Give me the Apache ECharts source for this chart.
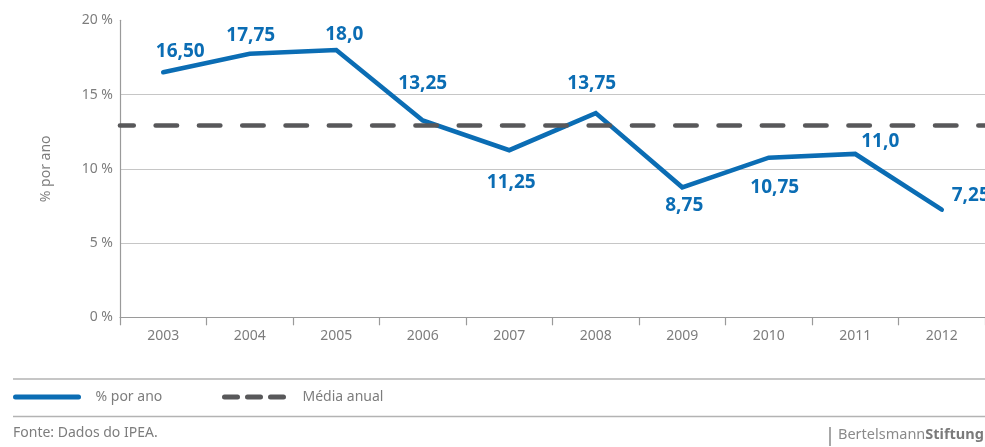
<!DOCTYPE html>
<html>
<head>
<meta charset="utf-8">
<script src="https://cdn.jsdelivr.net/npm/echarts@6/dist/echarts.min.js"></script>
<style>
  html, body { margin: 0; padding: 0; background: #fff; }
  #chart { width: 985px; height: 447px; }
</style>
</head>
<body>
<div id="chart"></div>
<script>
// Annual rate, Brazil 2003–2012
const years = ['2003', '2004', '2005', '2006', '2007', '2008', '2009', '2010', '2011', '2012'];
const ratePerYear = [16.5, 17.75, 18.0, 13.25, 11.25, 13.75, 8.75, 10.75, 11.0, 7.25];
const rateLabels = ['16,50', '17,75', '18,0', '13,25', '11,25', '13,75', '8,75', '10,75', '11,0', '7,25'];
const annualMean = 12.9;
const yTicks = [0, 5, 10, 15, 20];

// label placement next to each point: [dx, dy] from the point
const labelOffsets = [[17, -21], [1, -18], [8, -15], [0, -37], [2, 32], [-4, -30], [2, 18], [6, 30], [25, -12], [29, -14]];

const FONT = 'Noto Sans';
const GREY = '#7d7d7d';
const BLUE = '#0b6db4';
const DARK = '#58585a';
const HIDDEN = { color: 'rgba(0,0,0,0)', borderWidth: 0, opacity: 0 };

const chart = echarts.init(document.getElementById('chart'), null, { renderer: 'canvas' });

const lineData = ratePerYear.map((v, i) => ({
  value: v,
  label: { formatter: rateLabels[i], offset: labelOffsets[i] }
}));

chart.setOption({
  animation: false,
  grid: { left: 120, right: 0, top: 20.3, bottom: 129.7, containLabel: false },
  legend: [
    {
      left: 13, top: 390, padding: 0, itemWidth: 63, itemHeight: 14, selectedMode: false,
      data: [{ name: '% por ano', itemStyle: HIDDEN,
               lineStyle: { width: 5, color: BLUE, cap: 'round', type: 'solid' } }],
      textStyle: { fontFamily: FONT, fontSize: 14, color: GREY, padding: [0, 0, 0, 12] }
    },
    {
      left: 222, top: 390, padding: 0, itemWidth: 63, itemHeight: 14, selectedMode: false,
      data: [{ name: 'Média anual', itemStyle: HIDDEN,
               lineStyle: { type: [13, 10], width: 5, cap: 'round', color: DARK } }],
      textStyle: { fontFamily: FONT, fontSize: 14, color: GREY, padding: [0, 0, 0, 10] }
    }
  ],
  xAxis: {
    type: 'category',
    data: years,
    boundaryGap: true,
    axisLine: { lineStyle: { color: '#9a9a9a', width: 1.2 } },
    axisTick: { show: true, length: 8, interval: 0, lineStyle: { color: '#9a9a9a', width: 1.2 } },
    axisLabel: { fontFamily: FONT, fontSize: 14, color: GREY, margin: 12 },
    splitLine: { show: false }
  },
  yAxis: {
    type: 'value',
    min: yTicks[0], max: yTicks[yTicks.length - 1], interval: 5,
    name: '% por ano',
    nameLocation: 'middle',
    nameRotate: 90,
    nameGap: 67,
    nameTextStyle: { fontFamily: FONT, fontSize: 14, color: GREY },
    axisLine: { show: true, lineStyle: { color: '#9a9a9a', width: 1.2 } },
    axisTick: { show: false },
    axisLabel: { fontFamily: FONT, fontSize: 14, color: GREY, margin: 7, formatter: v => v + ' %' },
    splitLine: { show: true, lineStyle: { color: ['none', '#c6c6c6', '#c6c6c6', '#c6c6c6', 'none'], width: 1.2 } }
  },
  series: [
    {
      name: '% por ano',
      type: 'line',
      z: 4,
      data: lineData,
      symbol: 'circle',
      symbolSize: 0.01,
      showSymbol: true,
      lineStyle: { color: BLUE, width: 4.6, cap: 'round', join: 'miter' },
      itemStyle: { color: BLUE },
      label: {
        show: true,
        position: 'inside',
        fontFamily: FONT,
        fontWeight: 'bold',
        fontSize: 19,
        color: BLUE
      }
    },
    {
      name: 'Média anual',
      type: 'line',
      z: 2,
      data: [],
      symbol: 'none',
      lineStyle: { color: DARK, width: 4.7, type: [21.3, 22], cap: 'round' },
      itemStyle: { color: DARK },
      markLine: {
        silent: true,
        symbol: ['none', 'none'],
        label: { show: false },
        lineStyle: { color: DARK, width: 4.7, type: [21.3, 22], dashOffset: 7.6, cap: 'round' },
        data: [{ yAxis: annualMean }]
      }
    }
  ],
  graphic: [
    { type: 'line', silent: true, shape: { x1: 13, y1: 379, x2: 985, y2: 379 }, style: { stroke: '#b3b3b3', lineWidth: 1.5 } },
    { type: 'line', silent: true, shape: { x1: 13, y1: 416.5, x2: 985, y2: 416.5 }, style: { stroke: '#b3b3b3', lineWidth: 1.5 } },
    { type: 'text', silent: true, left: 13, top: 426,
      style: { text: 'Fonte: Dados do IPEA.', fontFamily: FONT, fontSize: 14, fill: GREY } },
    { type: 'line', silent: true, shape: { x1: 830, y1: 427, x2: 830, y2: 446 }, style: { stroke: '#8a8a8a', lineWidth: 1.5 } },
    { type: 'text', silent: true, left: 838, top: 427,
      style: {
        text: '{a|Bertelsmann}{b|Stiftung}',
        rich: {
          a: { fontFamily: FONT, fontSize: 14.5, fill: '#8a8a8a' },
          b: { fontFamily: FONT, fontSize: 14.5, fontWeight: 'bold', fill: '#7a7a7a' }
        }
      } }
  ]
});
</script>
</body>
</html>
